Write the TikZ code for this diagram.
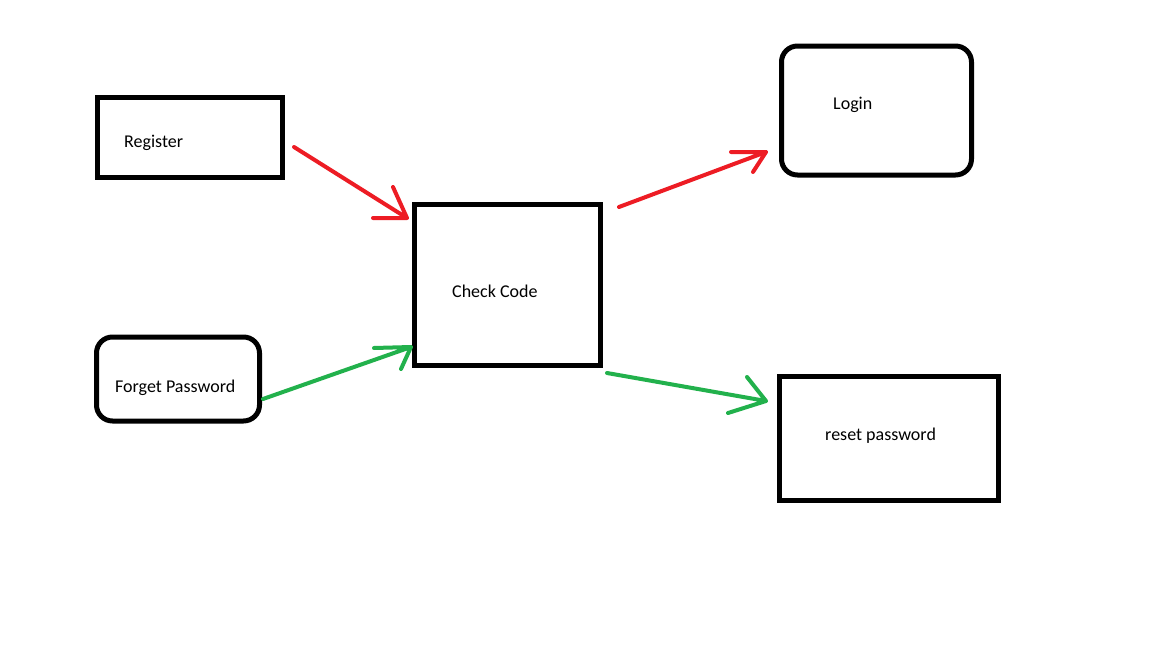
\documentclass[tikz,border=0pt]{standalone}
\usepackage{fontspec}
\setmainfont{Carlito}
\definecolor{pred}{RGB}{237,28,36}
\definecolor{pgreen}{RGB}{34,177,76}
\begin{document}
\begin{tikzpicture}[x=1pt,y=-1pt,
  box/.style={draw=black,line width=5pt,inner sep=0pt,outer sep=0pt},
  rbox/.style={box,rounded corners=16pt},
  txt/.style={anchor=base west,inner sep=0pt,font=\fontsize{18}{21}\selectfont,text=black},
  conn/.style={line width=4pt,line cap=round,line join=round}]
\useasboundingbox[fill=white] (0,0) rectangle (1152,648);
% boxes
\node[box,minimum width=185pt,minimum height=80pt] (reg) at (190,137.5) {};
\node[rbox,minimum width=163pt,minimum height=84pt] (fp) at (178,379) {};
\node[box,minimum width=186pt,minimum height=161pt] (cc) at (507.25,285) {};
\node[rbox,minimum width=190pt,minimum height=129pt] (login) at (876.5,110.5) {};
\node[box,minimum width=219pt,minimum height=124pt] (rp) at (889,438.5) {};
% labels
\node[txt] (tReg) at (124,147) {Register};
\node[txt] (tFp) at (115,392.5) {Forget Password};
\node[txt] (tCc) at (452,297) {Check Code};
\node[txt] (tLogin) at (833,109) {Login};
\node[txt] (tRp) at (825,440.5) {reset password};
% connector end points
\coordinate (a1s) at (294,147);  \coordinate (a1t) at (407,218);
\coordinate (a1h1) at (373,218); \coordinate (a1h2) at (393,187);
\coordinate (a2s) at (619,207);  \coordinate (a2t) at (766,152);
\coordinate (a2h1) at (731,152); \coordinate (a2h2) at (753,172);
\coordinate (a3s) at (263,399);  \coordinate (a3t) at (411,347);
\coordinate (a3h1) at (374,348); \coordinate (a3h2) at (401,369);
\coordinate (a4s) at (607,373);  \coordinate (a4t) at (766,401);
\coordinate (a4h1) at (747,377); \coordinate (a4h2) at (728,413);
% connectors
\draw[conn,pred] (a1s) -- (a1t) (a1h1) -- (a1t) -- (a1h2);
\draw[conn,pred] (a2s) -- (a2t) (a2h1) -- (a2t) -- (a2h2);
\draw[conn,pgreen] (a3s) -- (a3t) (a3h1) -- (a3t) -- (a3h2);
\draw[conn,pgreen] (a4s) -- (a4t) (a4h1) -- (a4t) -- (a4h2);
\end{tikzpicture}
\end{document}
